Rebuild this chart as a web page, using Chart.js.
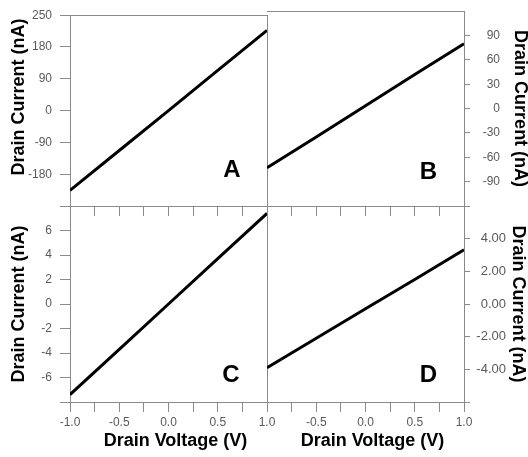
<!DOCTYPE html>
<html><head><meta charset="utf-8">
<script src="https://cdn.jsdelivr.net/npm/chart.js@4.4.1/dist/chart.umd.min.js"></script>
<style>
html,body{margin:0;padding:0;background:#fff;}
#wrap{position:relative;width:528px;height:457px;background:#fff;}
#wrap canvas{position:absolute;left:0;top:0;}
</style></head><body>
<div id="wrap">
<canvas id="cA" width="528" height="457"></canvas>
<canvas id="cB" width="528" height="457"></canvas>
<canvas id="cC" width="528" height="457"></canvas>
<canvas id="cD" width="528" height="457"></canvas>
</div>
<script>
// ---- data ----
const voltage = [-1.0, -0.5, 0.0, 0.5, 1.0];
const currentA = [-226, -113, 0, 114, 227];
const currentB = [-73, -35, 3.5, 42, 80];
const currentC = [-7.4, -3.7, 0, 3.7, 7.4];
const currentD = [-3.9, -2.1, -0.29, 1.5, 3.32];

const voltageTicks = [-1, -0.75, -0.5, -0.25, 0, 0.25, 0.5, 0.75, 1];
const voltageLabelsC = ['-1.0', '', '-0.5', '', '0.0', '', '0.5', '', '1.0'];
const voltageLabelsD = ['', '', '-0.5', '', '0.0', '', '0.5', '', '1.0'];

const yTicksA = [-270, -180, -90, 0, 90, 180, 270];
const yLabelsA = ['', '-180', '-90', '0', '90', '180', '250'];
const yTicksB = [-120, -90, -60, -30, 0, 30, 60, 90, 120];
const yLabelsB = ['', '-90', '-60', '-30', '0', '30', '60', '90', ''];
const yTicksC = [-8, -6, -4, -2, 0, 2, 4, 6, 8];
const yLabelsC = ['', '-6', '-4', '-2', '0', '2', '4', '6', ''];
const yTicksD = [-6, -4, -2, 0, 2, 4, 6];
const yLabelsD = ['', '-4.00', '-2.00', '0.00', '2.00', '4.00', ''];

const xTitle = 'Drain Voltage (V)';
const yTitle = 'Drain Current (nA)';

// ---- styling ----
const FONT = '"Liberation Sans", Arial, Helvetica, sans-serif';
const GRAY = '#8a8a8a';
const TICKTXT = '#5a5a5a';
Chart.defaults.font.family = FONT;

const panelLetter = {
  id: 'panelLetter',
  afterDatasetsDraw(chart, args, opts) {
    const {ctx, chartArea} = chart;
    ctx.save();
    ctx.font = 'bold 24px ' + FONT;
    ctx.fillStyle = '#000';
    ctx.textAlign = 'center';
    ctx.textBaseline = 'middle';
    ctx.fillText(opts.text, chartArea.right + opts.dx, chartArea.bottom + opts.dy);
    ctx.restore();
  }
};

function setTicks(values) {
  return function (scale) { scale.ticks = values.map(v => ({value: v})); };
}

function makeChart(id, p) {
  const scales = {
    x: {
      type: 'linear', position: 'bottom', min: -1, max: 1,
      afterBuildTicks: setTicks(voltageTicks),
      afterFit: s => { s.height = p.xHeight; },
      grid: { drawOnChartArea: false, drawTicks: true, tickLength: 10, color: GRAY, tickColor: GRAY, lineWidth: 1 },
      border: { display: true, color: GRAY, width: 1 },
      ticks: {
        display: !!p.xLabels, autoSkip: false, maxRotation: 0, minRotation: 0, padding: 3,
        color: TICKTXT, font: { size: 12 },
        callback: (v, i) => p.xLabels ? p.xLabels[i] : ''
      },
      title: p.xLabels ? {
        display: true, text: '\u2002 ' + xTitle, color: '#000',
        font: { size: 18, weight: 'bold', lineHeight: 1 }, padding: { top: 0, bottom: 7 }
      } : { display: false }
    },
    y: {
      type: 'linear', position: p.ySide, min: p.yMin, max: p.yMax,
      afterBuildTicks: setTicks(p.yTicks),
      afterFit: s => { s.width = p.yWidth; },
      grid: {
        drawOnChartArea: false, drawTicks: true, tickLength: p.yTickLen, color: GRAY, lineWidth: 1,
        tickColor: c => (p.hideTop && c.tick && c.tick.value === p.yMax) ? 'rgba(0,0,0,0)' : GRAY
      },
      border: { display: true, color: GRAY, width: 1 },
      ticks: {
        autoSkip: false, padding: p.yPad, color: TICKTXT, font: { size: p.yFont },
        crossAlign: p.ySide === 'right' ? 'far' : 'near',
        callback: (v, i) => p.yLabels[i]
      },
      title: {
        display: true, text: p.titleLead + yTitle, color: '#000',
        font: { size: 18, weight: 'bold', lineHeight: 1 }, padding: { top: p.titlePad, bottom: 0 }
      }
    }
  };
  if (p.topBorder) {
    scales.xTop = {
      type: 'linear', position: 'top', min: -1, max: 1,
      afterFit: s => { s.height = 0; },
      grid: { drawOnChartArea: false, drawTicks: false, color: GRAY },
      border: { display: true, color: GRAY, width: 1 },
      ticks: { display: false }
    };
  }
  if (p.rightBorder) {
    scales.yRight = {
      type: 'linear', position: 'right', min: p.yMin, max: p.yMax,
      afterFit: s => { s.width = 0; },
      grid: { drawOnChartArea: false, drawTicks: false, color: GRAY },
      border: { display: true, color: GRAY, width: 1 },
      ticks: { display: false }
    };
  }
  return new Chart(document.getElementById(id), {
    type: 'line',
    data: {
      datasets: [{
        data: voltage.map((v, i) => ({ x: v, y: p.values[i] })),
        borderColor: '#000', borderWidth: 3, pointRadius: 0, tension: 0, fill: false
      }]
    },
    options: {
      responsive: false, animation: false, devicePixelRatio: 1,
      layout: { padding: p.padding },
      plugins: {
        legend: { display: false }, tooltip: { enabled: false },
        panelLetter: { text: p.letter, dx: p.dx, dy: p.dy }
      },
      scales: scales
    },
    plugins: [panelLetter]
  });
}

makeChart('cA', {
  values: currentA, yTicks: yTicksA, yLabels: yLabelsA, yMin: -270, yMax: 270,
  ySide: 'left', yWidth: 70, yTickLen: 10, yPad: 8, yFont: 12, titlePad: 10, titleLead: '\u2002\u2002\u2002',
  xHeight: 10, xLabels: null, topBorder: true, rightBorder: true,
  padding: { left: 0, top: 10, right: 261, bottom: 241 },
  letter: 'A', dx: -35, dy: -36
});
makeChart('cB', {
  values: currentB, yTicks: yTicksB, yLabels: yLabelsB, yMin: -120, yMax: 120,
  ySide: 'right', yWidth: 36, yTickLen: 6, yPad: 4, yFont: 12, titlePad: -29, titleLead: '', hideTop: true,
  xHeight: 10, xLabels: null, topBorder: true, rightBorder: false,
  padding: { left: 267, top: 10, right: 28, bottom: 241 },
  letter: 'B', dx: -35.5, dy: -33.5
});
makeChart('cC', {
  values: currentC, yTicks: yTicksC, yLabels: yLabelsC, yMin: -8, yMax: 8,
  ySide: 'left', yWidth: 70, yTickLen: 10, yPad: 8, yFont: 12, titlePad: 10, titleLead: '',
  xHeight: 55, xLabels: voltageLabelsC, topBorder: false, rightBorder: true,
  padding: { left: 0, top: 206, right: 261, bottom: 0 },
  letter: 'C', dx: -36, dy: -27
});
makeChart('cD', {
  values: currentD, yTicks: yTicksD, yLabels: yLabelsD, yMin: -6, yMax: 6,
  ySide: 'right', yWidth: 42, yTickLen: 6, yPad: 4, yFont: 13, titlePad: -21, titleLead: '',
  xHeight: 55, xLabels: voltageLabelsD, topBorder: false, rightBorder: false,
  padding: { left: 267, top: 206, right: 22, bottom: 0 },
  letter: 'D', dx: -35.5, dy: -27
});
</script>
</body></html>
